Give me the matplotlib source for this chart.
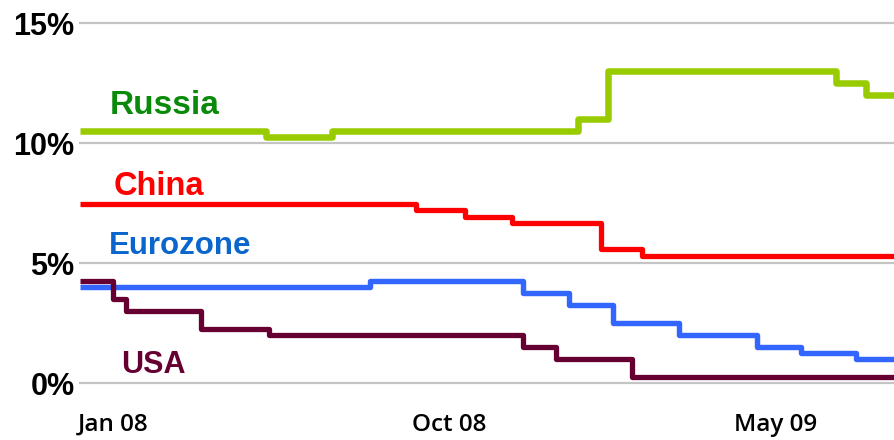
import matplotlib
matplotlib.use("Agg")
import matplotlib.pyplot as plt
from matplotlib import font_manager
from datetime import datetime

# Policy rate decisions: date of change -> new rate (%)
usa_dates = ["2008-01-01", "2008-01-22", "2008-01-30", "2008-03-18", "2008-04-30",
             "2008-10-08", "2008-10-29", "2008-12-16"]
usa_rates = [4.25, 3.5, 3.0, 2.25, 2.0, 1.5, 1.0, 0.25]

euro_dates = ["2008-01-01", "2008-07-03", "2008-10-08", "2008-11-06", "2008-12-04",
              "2009-01-15", "2009-03-05", "2009-04-02", "2009-05-07"]
euro_rates = [4.0, 4.25, 3.75, 3.25, 2.5, 2.0, 1.5, 1.25, 1.0]

china_dates = ["2008-01-01", "2008-08-01", "2008-09-01", "2008-10-01", "2008-11-26",
               "2008-12-22"]
china_rates = [7.47, 7.20, 6.93, 6.66, 5.58, 5.31]

russia_dates = ["2008-01-01", "2008-04-28", "2008-06-09", "2008-11-12", "2008-12-01",
                "2009-04-24", "2009-05-13"]
russia_rates = [10.5, 10.25, 10.5, 11.0, 13.0, 12.5, 12.0]

x_start, x_end = "2008-01-01", "2009-05-31"
tick_dates = ["2008-01-22", "2008-08-22", "2009-03-17"]
tick_labels = ["Jan 08", "Oct 08", "May 09"]
y_ticks = [0, 5, 10, 15]
y_labels = ["0%", "5%", "10%", "15%"]


def has_font(name):
    try:
        font_manager.findfont(font_manager.FontProperties(family=name),
                              fallback_to_default=False)
        return True
    except Exception:
        return False


narrow_ok = has_font("Liberation Sans Narrow")
narrow = "Liberation Sans Narrow" if narrow_ok else "Liberation Sans"


def to_dt(seq):
    return [datetime.strptime(s, "%Y-%m-%d") for s in seq]


def extend(dates, rates):
    d = to_dt(dates) + [datetime.strptime(x_end, "%Y-%m-%d")]
    r = list(rates) + [rates[-1]]
    return d, r


fig = plt.figure(figsize=(8.94, 4.40), dpi=100)
W, H = 894, 440
ax = fig.add_axes([80 / W, (H - 383.3) / H, (W - 80) / W, 360 / H])
ax.set_xlim(datetime.strptime(x_start, "%Y-%m-%d"), datetime.strptime(x_end, "%Y-%m-%d"))
ax.set_ylim(0, 15)

for s in ax.spines.values():
    s.set_visible(False)

for v in y_ticks:
    ax.axhline(v, color="#c4c4c4", lw=1.6, zorder=0, clip_on=False)

series = [
    (russia_dates, russia_rates, "#99cc00", 4.7),
    (china_dates, china_rates, "#ff0000", 3.8),
    (euro_dates, euro_rates, "#3366ff", 3.9),
    (usa_dates, usa_rates, "#660033", 3.8),
]
for dates, rates, col, lw in series:
    d, r = extend(dates, rates)
    ax.plot(d, r, drawstyle="steps-post", color=col, lw=lw,
            solid_joinstyle="round", solid_capstyle="butt", clip_on=False, zorder=3)

# Series names
labels = [
    ("Russia", "2008-01-20", 11.22, "#0a8a0a", narrow, 27.5 if narrow_ok else 24),
    ("China", "2008-01-22", 7.85, "#ff0000", "Liberation Sans", 23.5),
    ("Eurozone", "2008-01-19", 5.37, "#0a66cc", "Liberation Sans", 22.5),
    ("USA", "2008-01-27", 0.45, "#660033", narrow, 26 if narrow_ok else 22),
]
for txt, d, y, col, fam, size in labels:
    ax.text(datetime.strptime(d, "%Y-%m-%d"), y, txt, color=col, family=fam,
            fontsize=size, fontweight="bold", ha="left", va="baseline")

ax.set_yticks(y_ticks)
ax.set_yticklabels(y_labels, family="Liberation Sans", fontweight="bold", fontsize=22)
ax.tick_params(axis="y", length=0, pad=4)

ax.set_xticks(to_dt(tick_dates))
ax.set_xticklabels(tick_labels, family="Open Sans", fontweight="semibold", fontsize=17.5)
ax.tick_params(axis="x", length=0, pad=34)
for t in ax.get_xticklabels():
    t.set_verticalalignment("baseline")

fig.savefig("out.png", dpi=100, facecolor="white")
